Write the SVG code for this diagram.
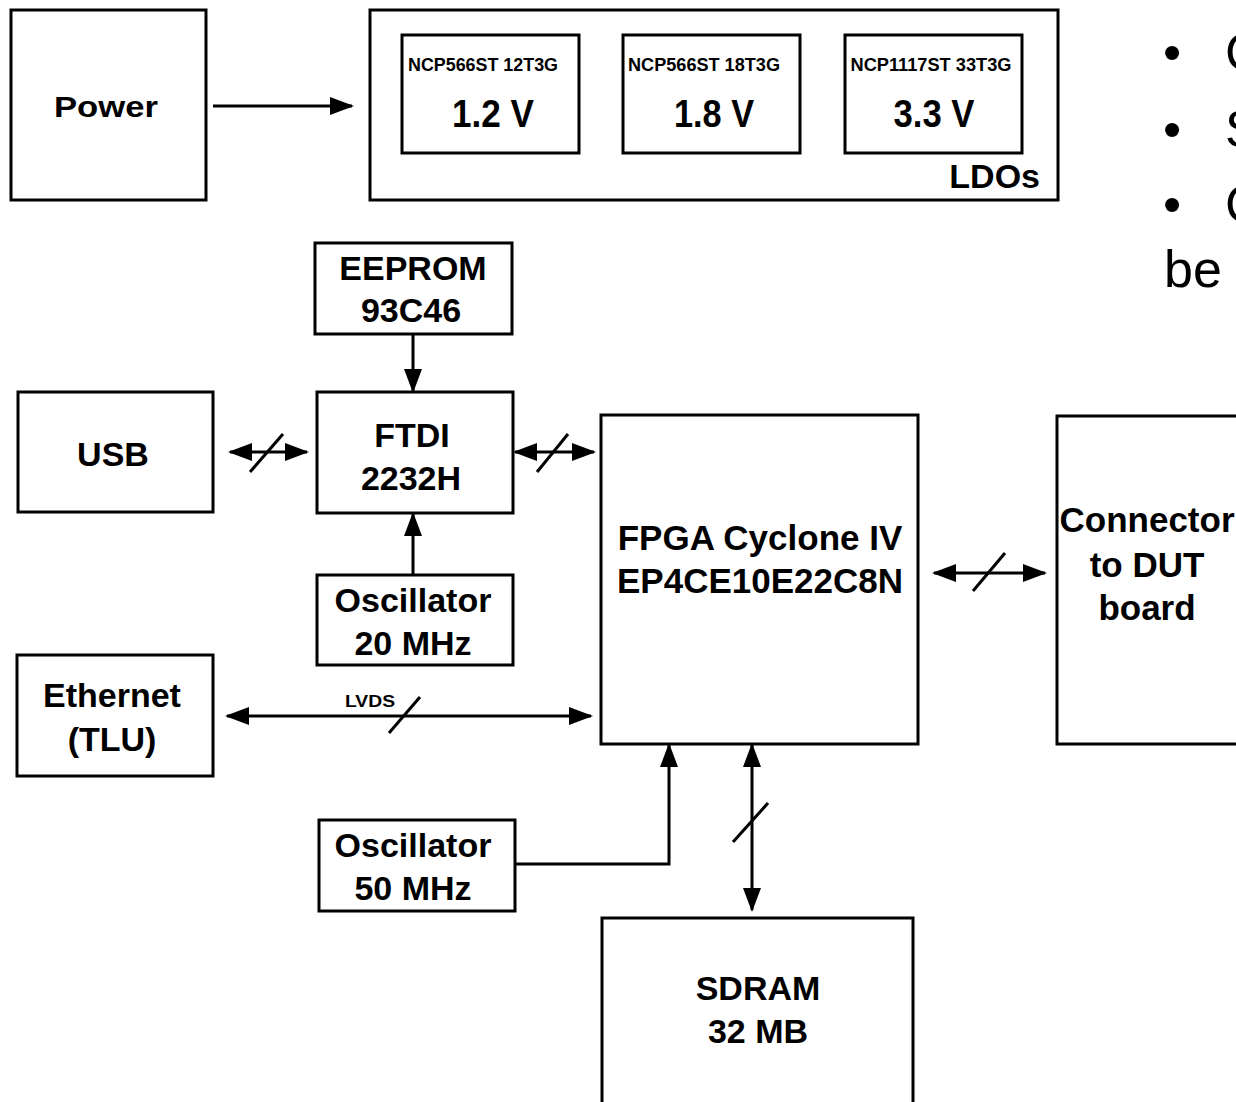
<svg xmlns="http://www.w3.org/2000/svg" width="1236" height="1102" viewBox="0 0 1236 1102">
<defs>
<style>
.box{fill:#fff;stroke:#000;stroke-width:3}
.ln{fill:none;stroke:#000;stroke-width:3}
.t{font-family:"Liberation Sans",Arial,sans-serif;font-weight:bold;font-size:34px;fill:#000;text-anchor:middle}
.ldo{font-family:"Liberation Sans",Arial,sans-serif;font-weight:bold;font-size:18px;fill:#000;text-anchor:middle}
.v{font-family:"Liberation Sans",Arial,sans-serif;font-weight:bold;font-size:38px;fill:#000;text-anchor:middle}
.side{font-family:"Liberation Sans",Arial,sans-serif;font-size:52px;fill:#000}
</style>
<marker id="ah" viewBox="0 0 24 18" refX="22" refY="9" markerWidth="24" markerHeight="18" markerUnits="userSpaceOnUse" orient="auto-start-reverse">
<path d="M0,0 L24,9 L0,18 z" fill="#000"/>
</marker>
</defs>
<rect x="0" y="0" width="1236" height="1102" fill="#fff"/>

<g id="power">
<rect class="box" x="11" y="10" width="195" height="190"/>
<text class="t" x="106" y="117" textLength="104" lengthAdjust="spacingAndGlyphs" style="font-size:30px">Power</text>
</g>

<g id="ldos">
<rect class="box" x="370" y="10" width="688" height="190"/>
<text class="t" x="1040" y="188" style="text-anchor:end">LDOs</text>
<g id="ldo12">
<rect class="box" x="402" y="35" width="177" height="118"/>
<text class="ldo" x="483" y="71" textLength="150" lengthAdjust="spacingAndGlyphs">NCP566ST 12T3G</text>
<text class="v" x="493" y="127" textLength="82" lengthAdjust="spacingAndGlyphs">1.2 V</text>
</g>
<g id="ldo18">
<rect class="box" x="623" y="35" width="177" height="118"/>
<text class="ldo" x="704" y="71" textLength="152" lengthAdjust="spacingAndGlyphs">NCP566ST 18T3G</text>
<text class="v" x="714" y="127" textLength="80" lengthAdjust="spacingAndGlyphs">1.8 V</text>
</g>
<g id="ldo33">
<rect class="box" x="845" y="35" width="177" height="118"/>
<text class="ldo" x="931" y="71" textLength="161" lengthAdjust="spacingAndGlyphs">NCP1117ST 33T3G</text>
<text class="v" x="934" y="127" textLength="81" lengthAdjust="spacingAndGlyphs">3.3 V</text>
</g>
</g>

<g id="eeprom">
<rect class="box" x="315" y="243" width="197" height="91"/>
<text class="t" x="413" y="280">EEPROM</text>
<text class="t" x="411" y="322">93C46</text>
</g>

<g id="ftdi">
<rect class="box" x="317" y="392" width="196" height="121"/>
<text class="t" x="412" y="447">FTDI</text>
<text class="t" x="411" y="490">2232H</text>
</g>

<g id="osc20">
<rect class="box" x="317" y="575" width="196" height="90"/>
<text class="t" x="413" y="612">Oscillator</text>
<text class="t" x="413" y="655">20 MHz</text>
</g>

<g id="usb">
<rect class="box" x="18" y="392" width="195" height="120"/>
<text class="t" x="113" y="466">USB</text>
</g>

<g id="ethernet">
<rect class="box" x="17" y="655" width="196" height="121"/>
<text class="t" x="112" y="707">Ethernet</text>
<text class="t" x="112" y="751">(TLU)</text>
</g>

<g id="fpga">
<rect class="box" x="601" y="415" width="317" height="329"/>
<text class="t" x="760" y="550" style="font-size:35px">FPGA Cyclone IV</text>
<text class="t" x="760" y="593" style="font-size:35px">EP4CE10E22C8N</text>
</g>

<g id="connector">
<rect class="box" x="1057" y="416" width="200" height="328"/>
<text class="t" x="1147" y="532" style="font-size:35px">Connector</text>
<text class="t" x="1147" y="577" style="font-size:35px">to DUT</text>
<text class="t" x="1147" y="620" style="font-size:35px">board</text>
</g>

<g id="osc50">
<rect class="box" x="319" y="820" width="196" height="91"/>
<text class="t" x="413" y="857">Oscillator</text>
<text class="t" x="413" y="900">50 MHz</text>
</g>

<g id="sdram">
<rect class="box" x="602" y="918" width="311" height="200"/>
<text class="t" x="758" y="1000">SDRAM</text>
<text class="t" x="758" y="1043">32 MB</text>
</g>

<g id="sidetext">
<text class="side" x="1172" y="70" style="text-anchor:middle">•</text>
<text class="side" x="1225" y="70">C</text>
<text class="side" x="1172" y="147" style="text-anchor:middle">•</text>
<text class="side" x="1225" y="147">S</text>
<text class="side" x="1172" y="222" style="text-anchor:middle">•</text>
<text class="side" x="1225" y="222">C</text>
<text class="side" x="1164" y="287">be</text>
</g>

<g id="connectors">
<line class="ln" x1="213" y1="106" x2="352" y2="106" marker-end="url(#ah)"/>
<line class="ln" x1="413" y1="334" x2="413" y2="391" marker-end="url(#ah)"/>
<line class="ln" x1="413" y1="575" x2="413" y2="514" marker-end="url(#ah)"/>
<line class="ln" x1="230" y1="452" x2="307" y2="452" marker-start="url(#ah)" marker-end="url(#ah)"/>
<line class="ln" x1="250" y1="472" x2="283" y2="434"/>
<line class="ln" x1="515" y1="452" x2="594" y2="452" marker-start="url(#ah)" marker-end="url(#ah)"/>
<line class="ln" x1="537" y1="472" x2="568" y2="434"/>
<line class="ln" x1="227" y1="716" x2="591" y2="716" marker-start="url(#ah)" marker-end="url(#ah)"/>
<line class="ln" x1="389" y1="733" x2="420" y2="697"/>
<text x="370" y="707" style="font-family:'Liberation Sans',Arial,sans-serif;font-weight:bold;font-size:16px;text-anchor:middle" textLength="50" lengthAdjust="spacingAndGlyphs">LVDS</text>
<line class="ln" x1="934" y1="573" x2="1045" y2="573" marker-start="url(#ah)" marker-end="url(#ah)"/>
<line class="ln" x1="973" y1="591" x2="1005" y2="553"/>
<line class="ln" x1="752" y1="745" x2="752" y2="910" marker-start="url(#ah)" marker-end="url(#ah)"/>
<line class="ln" x1="733" y1="842" x2="768" y2="803"/>
<polyline class="ln" points="515,864 669,864 669,745" marker-end="url(#ah)"/>
</g>
</svg>
